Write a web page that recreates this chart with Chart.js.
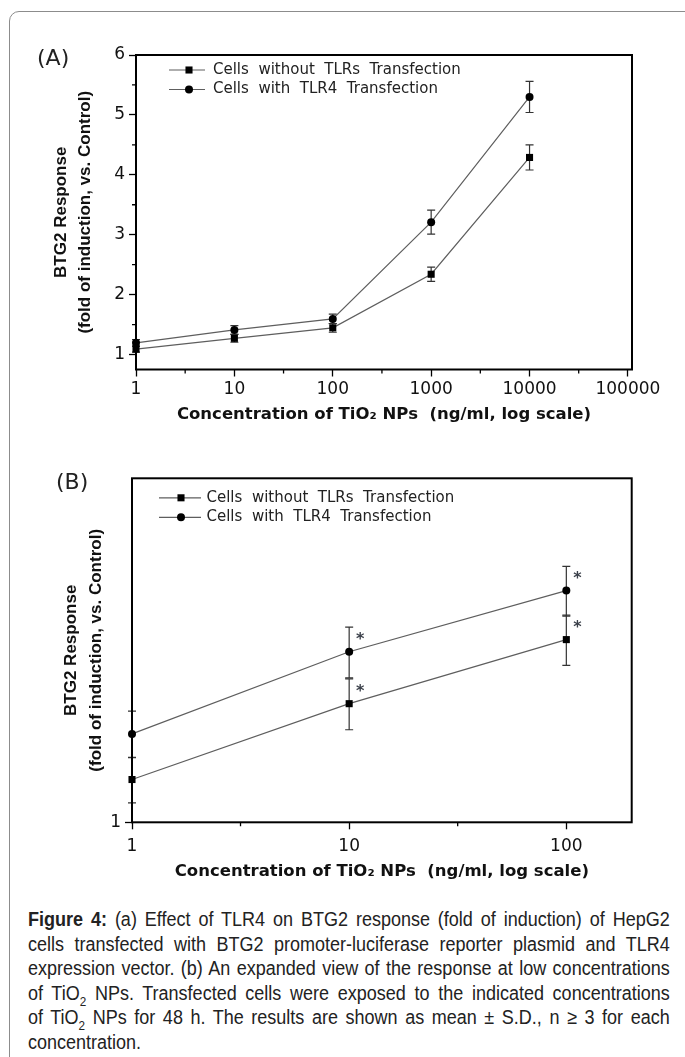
<!DOCTYPE html>
<html>
<head>
<meta charset="utf-8">
<script src="https://cdn.jsdelivr.net/npm/chart.js@4.4.1/dist/chart.umd.min.js"></script>
<style>
  body { margin: 0; background: #fff; width: 685px; height: 1057px; overflow: hidden; position: relative; }
  #frame { position: absolute; left: 9px; top: 11px; width: 800px; height: 1100px; border: 1.5px solid #8c8c8c; border-radius: 10px; }
  .wrap { position: absolute; left: 0; width: 685px; }
  #wrapA { top: 0; height: 440px; }
  #wrapB { top: 440px; height: 450px; }
  .tag { position: absolute; font-family: "DejaVu Sans", sans-serif; font-size: 22px; color: #222; }
  #caption { position: absolute; left: 28px; top: 907px; width: 713px; transform: scaleX(0.9); transform-origin: left top; font-family: "Liberation Sans", Arial, sans-serif; font-size: 20px; line-height: 24.5px; color: #222; }
  #caption div { text-align: justify; text-align-last: justify; white-space: nowrap; }
  #caption div.last { text-align-last: left; }
  #caption sub { font-size: 13px; line-height: 0; vertical-align: -6px; }
</style>
</head>
<body>
<div id="frame"></div>
<div class="wrap" id="wrapA"><canvas id="chartA"></canvas></div>
<div class="wrap" id="wrapB"><canvas id="chartB"></canvas></div>
<div class="tag" style="left:37px; top:45px;">(A)</div>
<div class="tag" style="left:56px; top:469px;">(B)</div>
<div id="caption">
  <div><b>Figure 4:</b> (a) Effect of TLR4 on BTG2 response (fold of induction) of HepG2</div>
  <div>cells transfected with BTG2 promoter-luciferase reporter plasmid and TLR4</div>
  <div>expression vector. (b) An expanded view of the response at low concentrations</div>
  <div>of TiO<sub>2</sub> NPs. Transfected cells were exposed to the indicated concentrations</div>
  <div>of TiO<sub>2</sub> NPs for 48 h. The results are shown as mean ± S.D., n ≥ 3 for each</div>
  <div class="last">concentration.</div>
</div>
<script>
// values (ng/ml, fold of induction)
const concentrations = [1, 10, 100, 1000, 10000];
const withoutTLR = [1.09, 1.27, 1.445, 2.34, 4.29];
const withoutTLRErr = [0.05, 0.065, 0.073, 0.12, 0.21];
const withTLR4 = [1.195, 1.41, 1.595, 3.21, 5.3];
const withTLR4Err = [0.056, 0.072, 0.08, 0.2, 0.26];
const significant = [false, true, true];
const seriesLabels = ["Cells  without  TLRs  Transfection", "Cells  with  TLR4  Transfection"];

const xTicksA = [1, 10, 100, 1000, 10000, 100000];
const xMinorA = [3.16, 31.6, 316, 3160, 31600];
const yTicksA = [1, 2, 3, 4, 5, 6];
const yMinorA = [1.5, 2.5, 3.5, 4.5, 5.5];
const xTicksB = [1, 10, 100];
const xMinorB = [3.16, 31.6];
const yTicksB = [1];

const yTitle = ["BTG2 Response", "(fold of induction, vs. Control)"];
const xTitle = "Concentration of TiO\u2082 NPs  (ng/ml, log scale)";

const frameAndMinor = {
  id: "frameAndMinor",
  afterDraw(chart, args, opts) {
    const { ctx, chartArea: a, scales } = chart;
    ctx.save();
    ctx.strokeStyle = "#000";
    ctx.lineWidth = 1.3;
    ctx.beginPath();
    (opts.xMinor || []).forEach((v) => {
      const px = scales.x.getPixelForValue(v);
      ctx.moveTo(px, a.bottom);
      ctx.lineTo(px, a.bottom + 4);
    });
    (opts.yMinor || []).forEach((v) => {
      const py = scales.y.getPixelForValue(v);
      ctx.moveTo(a.left, py);
      ctx.lineTo(a.left - 4, py);
    });
    ctx.stroke();
    ctx.lineWidth = 2;
    ctx.strokeRect(a.left, a.top, a.right - a.left, a.bottom - a.top);
    ctx.restore();
  },
};

const errorBars = {
  id: "errorBars",
  beforeDatasetsDraw(chart) {
    const { ctx, scales } = chart;
    ctx.save();
    ctx.strokeStyle = "#333";
    ctx.lineWidth = 1.2;
    chart.data.datasets.forEach((ds) => {
      ds.data.forEach((pt, i) => {
        const px = scales.x.getPixelForValue(pt.x);
        const hi = scales.y.getPixelForValue(pt.y + ds.errors[i]);
        const lo = scales.y.getPixelForValue(pt.y - ds.errors[i]);
        ctx.beginPath();
        ctx.moveTo(px, hi);
        ctx.lineTo(px, lo);
        ctx.moveTo(px - 4, hi);
        ctx.lineTo(px + 4, hi);
        ctx.moveTo(px - 4, lo);
        ctx.lineTo(px + 4, lo);
        ctx.stroke();
      });
    });
    ctx.restore();
  },
  afterDatasetsDraw(chart, args, opts) {
    if (!opts.marks) return;
    const { ctx, scales } = chart;
    ctx.save();
    ctx.fillStyle = "#3b404a";
    ctx.font = "bold 16px 'DejaVu Sans'";
    ctx.textAlign = "center";
    ctx.textBaseline = "middle";
    chart.data.datasets.forEach((ds) => {
      ds.data.forEach((pt, i) => {
        if (!opts.marks[i]) return;
        const px = scales.x.getPixelForValue(pt.x);
        const hi = scales.y.getPixelForValue(pt.y + ds.errors[i]);
        ctx.fillText("*", px + 11, hi + 13);
      });
    });
    ctx.restore();
  },
};

const lineLegend = {
  id: "lineLegend",
  afterDraw(chart, args, opts) {
    const { ctx, chartArea: a } = chart;
    ctx.save();
    chart.data.datasets.forEach((ds, i) => {
      const y = a.top + opts.rowY[i];
      ctx.strokeStyle = ds.borderColor;
      ctx.lineWidth = ds.borderWidth;
      ctx.beginPath();
      ctx.moveTo(a.left + opts.lineX[0], y);
      ctx.lineTo(a.left + opts.lineX[1], y);
      ctx.stroke();
      ctx.fillStyle = "#000";
      Chart.helpers.drawPoint(ctx, { pointStyle: ds.pointStyle, radius: ds.pointRadius, rotation: 0, borderWidth: 0 }, a.left + opts.markerX, y);
      ctx.fillStyle = "#222";
      ctx.font = "15px 'DejaVu Sans'";
      ctx.textBaseline = "middle";
      ctx.fillText(ds.label, a.left + opts.textX, y);
    });
    ctx.restore();
  },
};

const makeSeries = (n) => [
  {
    label: seriesLabels[0],
    data: concentrations.slice(0, n).map((c, i) => ({ x: c, y: withoutTLR[i] })),
    errors: withoutTLRErr,
    pointStyle: "rect",
    pointRadius: 5,
  },
  {
    label: seriesLabels[1],
    data: concentrations.slice(0, n).map((c, i) => ({ x: c, y: withTLR4[i] })),
    errors: withTLR4Err,
    pointStyle: "circle",
    pointRadius: 4,
  },
].map((ds) => ({
  ...ds,
  borderColor: "#5e5e5e",
  borderWidth: 1.2,
  pointBackgroundColor: "#000",
  pointBorderWidth: 0,
  pointHoverRadius: ds.pointRadius,
  tension: 0,
  clip: false,
}));

const tickFont = { family: "DejaVu Sans", size: 17 };

const buildChart = (id, cfg) =>
  new Chart(document.getElementById(id), {
    type: "line",
    data: { datasets: makeSeries(cfg.n) },
    plugins: [errorBars, frameAndMinor, lineLegend],
    options: {
      responsive: true,
      maintainAspectRatio: false,
      animation: false,
      layout: { padding: cfg.padding },
      plugins: {
        legend: { display: false },
        tooltip: { enabled: false },
        errorBars: { marks: cfg.marks },
        frameAndMinor: { xMinor: cfg.xMinor, yMinor: cfg.yMinor },
        lineLegend: cfg.legend,
      },
      scales: {
        x: {
          type: "logarithmic",
          min: cfg.xMin,
          max: cfg.xMax,
          afterBuildTicks: (s) => { s.ticks = cfg.xTicks.map((v) => ({ value: v })); },
          afterFit: (s) => { s.height = cfg.xHeight; },
          border: { display: false },
          grid: { drawOnChartArea: false, tickLength: 7, tickColor: "#000", tickWidth: 1.3 },
          ticks: { autoSkip: false, maxRotation: 0, color: "#111", font: tickFont, padding: cfg.xPad, callback: (v) => String(v) },
          title: { display: true, text: xTitle, color: "#111", font: { family: "DejaVu Sans", weight: "bold", size: 16.5 }, padding: { top: 0, bottom: cfg.xTitlePad } },
        },
        y: {
          type: cfg.yType,
          min: cfg.yMin,
          max: cfg.yMax,
          afterBuildTicks: (s) => { s.ticks = cfg.yTicks.map((v) => ({ value: v })); },
          afterFit: (s) => { s.width = cfg.yWidth; },
          border: { display: false },
          grid: { drawOnChartArea: false, tickLength: 7, tickColor: "#000", tickWidth: 1.3 },
          ticks: { color: "#111", font: tickFont, padding: 4, callback: (v) => String(v) },
          title: { display: true, text: yTitle, color: "#111", font: { family: "Liberation Sans", weight: "bold", size: 17, lineHeight: cfg.yTitleLh }, padding: { top: cfg.yTitlePad, bottom: 0 } },
        },
      },
    },
  });

buildChart("chartA", {
  n: 5,
  padding: { top: 55, right: 53, left: 0, bottom: 0 },
  xMin: 1, xMax: 110000, xTicks: xTicksA, xMinor: xMinorA,
  yType: "linear", yMin: 0.75, yMax: 6, yTicks: yTicksA, yMinor: yMinorA,
  xHeight: 70.5, xPad: 3, xTitlePad: 15,
  yWidth: 136, yTitleLh: 24 / 17, yTitlePad: 49,
  marks: null,
  legend: { rowY: [15, 34.5], lineX: [33, 69], markerX: 53, textX: 77 },
});

buildChart("chartB", {
  n: 3,
  padding: { top: 38.3, right: 53.3, left: 0, bottom: 0 },
  xMin: 1, xMax: 200, xTicks: xTicksB, xMinor: xMinorB,
  yType: "logarithmic", yMin: 1, yMax: 2, yTicks: yTicksB, yMinor: [],
  xHeight: 67.7, xPad: 7, xTitlePad: 8.4,
  yWidth: 132, yTitleLh: 25 / 17, yTitlePad: 58.5,
  marks: significant,
  legend: { rowY: [19.5, 39], lineX: [27, 69], markerX: 49, textX: 74.5 },
});
</script>
</body>
</html>
